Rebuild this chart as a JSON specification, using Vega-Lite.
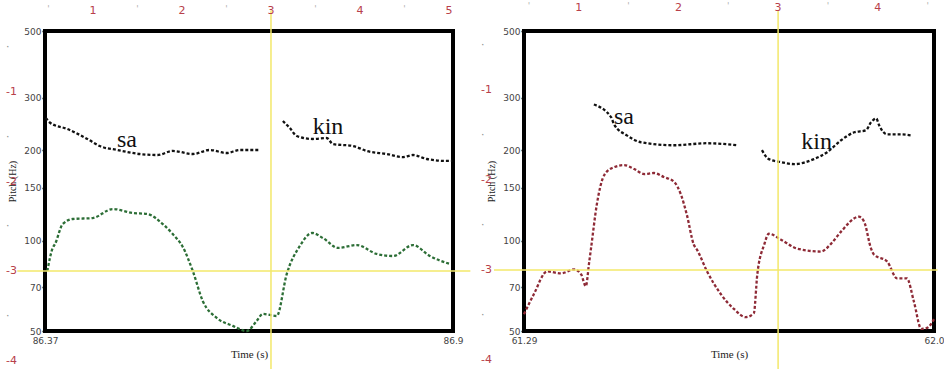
{
  "$schema": "https://vega.github.io/schema/vega-lite/v6.json",
  "background": "white",
  "padding": {"left": 3, "top": 0, "right": 0, "bottom": 0},
  "bounds": "flush",
  "spacing": 71,
  "resolve": {"scale": {"color": "independent"}},
  "config": {
    "view": {"stroke": "#000000", "strokeWidth": 4},
    "axis": {
      "grid": false,
      "domain": false,
      "labelFont": "DejaVu Sans",
      "labelFontSize": 9,
      "labelColor": "#444444",
      "labelFlush": false,
      "tickColor": "#000000",
      "tickSize": 3,
      "tickWidth": 1.5,
      "labelPadding": 1,
      "titleFont": "Liberation Serif",
      "titleFontWeight": "normal",
      "titleFontSize": 11,
      "titleColor": "#222222"
    },
    "line": {"strokeDash": [3, 2], "strokeWidth": 2.3, "interpolate": "monotone"}
  },
  "hconcat": [
    {
      "width": 408,
      "height": 300,
      "resolve": {"scale": {"x": "independent", "y": "independent"}},
      "layer": [
        {
          "layer": [
            {
              "data": {"values": [
                {"contour": "upper", "syllable": "sa", "t": 86.371, "f": 256.4},
                {"contour": "upper", "syllable": "sa", "t": 86.377, "f": 246.8},
                {"contour": "upper", "syllable": "sa", "t": 86.399, "f": 235.7},
                {"contour": "upper", "syllable": "sa", "t": 86.425, "f": 218.3},
                {"contour": "upper", "syllable": "sa", "t": 86.441, "f": 206.8},
                {"contour": "upper", "syllable": "sa", "t": 86.464, "f": 200.6},
                {"contour": "upper", "syllable": "sa", "t": 86.493, "f": 194.5},
                {"contour": "upper", "syllable": "sa", "t": 86.516, "f": 193.0},
                {"contour": "upper", "syllable": "sa", "t": 86.536, "f": 199.1},
                {"contour": "upper", "syllable": "sa", "t": 86.562, "f": 194.5},
                {"contour": "upper", "syllable": "sa", "t": 86.584, "f": 200.6},
                {"contour": "upper", "syllable": "sa", "t": 86.606, "f": 196.0},
                {"contour": "upper", "syllable": "sa", "t": 86.623, "f": 200.6},
                {"contour": "upper", "syllable": "sa", "t": 86.649, "f": 200.6},
                {"contour": "upper", "syllable": "kin", "t": 86.679, "f": 250.6},
                {"contour": "upper", "syllable": "kin", "t": 86.688, "f": 237.5},
                {"contour": "upper", "syllable": "kin", "t": 86.697, "f": 223.4},
                {"contour": "upper", "syllable": "kin", "t": 86.718, "f": 218.3},
                {"contour": "upper", "syllable": "kin", "t": 86.736, "f": 219.9},
                {"contour": "upper", "syllable": "kin", "t": 86.744, "f": 210.0},
                {"contour": "upper", "syllable": "kin", "t": 86.770, "f": 206.8},
                {"contour": "upper", "syllable": "kin", "t": 86.788, "f": 199.1},
                {"contour": "upper", "syllable": "kin", "t": 86.814, "f": 194.5},
                {"contour": "upper", "syllable": "kin", "t": 86.835, "f": 190.0},
                {"contour": "upper", "syllable": "kin", "t": 86.848, "f": 193.0},
                {"contour": "upper", "syllable": "kin", "t": 86.866, "f": 187.2},
                {"contour": "upper", "syllable": "kin", "t": 86.892, "f": 184.4},
                {"contour": "upper", "syllable": "kin", "t": 86.899, "f": 184.4},
                {"contour": "lower", "syllable": "all", "t": 86.373, "f": 79.2},
                {"contour": "lower", "syllable": "all", "t": 86.380, "f": 94.6},
                {"contour": "lower", "syllable": "all", "t": 86.383, "f": 97.5},
                {"contour": "lower", "syllable": "all", "t": 86.393, "f": 113.6},
                {"contour": "lower", "syllable": "all", "t": 86.406, "f": 118.1},
                {"contour": "lower", "syllable": "all", "t": 86.432, "f": 119.0},
                {"contour": "lower", "syllable": "all", "t": 86.458, "f": 127.5},
                {"contour": "lower", "syllable": "all", "t": 86.484, "f": 123.7},
                {"contour": "lower", "syllable": "all", "t": 86.503, "f": 122.7},
                {"contour": "lower", "syllable": "all", "t": 86.523, "f": 113.6},
                {"contour": "lower", "syllable": "all", "t": 86.536, "f": 105.2},
                {"contour": "lower", "syllable": "all", "t": 86.549, "f": 95.3},
                {"contour": "lower", "syllable": "all", "t": 86.562, "f": 79.2},
                {"contour": "lower", "syllable": "all", "t": 86.575, "f": 62.9},
                {"contour": "lower", "syllable": "all", "t": 86.593, "f": 55.3},
                {"contour": "lower", "syllable": "all", "t": 86.614, "f": 52.0},
                {"contour": "lower", "syllable": "all", "t": 86.632, "f": 50.0},
                {"contour": "lower", "syllable": "all", "t": 86.645, "f": 54.0},
                {"contour": "lower", "syllable": "all", "t": 86.653, "f": 57.0},
                {"contour": "lower", "syllable": "all", "t": 86.671, "f": 56.1},
                {"contour": "lower", "syllable": "all", "t": 86.684, "f": 77.4},
                {"contour": "lower", "syllable": "all", "t": 86.701, "f": 96.0},
                {"contour": "lower", "syllable": "all", "t": 86.717, "f": 106.1},
                {"contour": "lower", "syllable": "all", "t": 86.731, "f": 102.1},
                {"contour": "lower", "syllable": "all", "t": 86.751, "f": 94.6},
                {"contour": "lower", "syllable": "all", "t": 86.775, "f": 96.7},
                {"contour": "lower", "syllable": "all", "t": 86.801, "f": 90.3},
                {"contour": "lower", "syllable": "all", "t": 86.822, "f": 88.9},
                {"contour": "lower", "syllable": "all", "t": 86.848, "f": 96.7},
                {"contour": "lower", "syllable": "all", "t": 86.870, "f": 88.9},
                {"contour": "lower", "syllable": "all", "t": 86.896, "f": 83.6}
              ]},
              "mark": {"type": "line"},
              "encoding": {
                "x": {"field": "t", "type": "quantitative", "scale": {"domain": [86.37, 86.9], "nice": false, "zero": false},
                      "axis": {"values": [86.37, 86.9], "format": ".2~f", "tickSize": 0, "labelPadding": 5, "title": "Time (s)", "titlePadding": 3}},
                "y": {"field": "f", "type": "quantitative", "scale": {"type": "log", "domain": [50, 500], "nice": false},
                      "axis": {"values": [50, 70, 100, 150, 200, 300, 500], "title": "Pitch (Hz)", "titlePadding": 6, "titleFontSize": 10}},
                "color": {"field": "contour", "type": "nominal", "scale": {"domain": ["upper", "lower"], "range": ["#111111", "#2c6e36"]}, "legend": null},
                "detail": {"field": "syllable"}
              }
            },
            {
              "data": {"values": [
                {"word": "sa", "t": 86.4765, "f": 205},
                {"word": "kin", "t": 86.7376, "f": 227}
              ]},
              "mark": {"type": "text", "font": "Liberation Serif", "fontSize": 24, "baseline": "alphabetic", "color": "#111111"},
              "encoding": {
                "x": {"field": "t", "type": "quantitative"},
                "y": {"field": "f", "type": "quantitative"},
                "text": {"field": "word"}
              }
            }
          ]
        },
        {
          "data": {"values": [
            {"kind": "cross", "rx": 3, "ry": -3, "label": ""},
            {"kind": "top", "rx": 1, "ry": 0, "label": "1"},
            {"kind": "top", "rx": 2, "ry": 0, "label": "2"},
            {"kind": "top", "rx": 3, "ry": 0, "label": "3"},
            {"kind": "top", "rx": 4, "ry": 0, "label": "4"},
            {"kind": "top", "rx": 5, "ry": 0, "label": "5"},
            {"kind": "left", "rx": 0, "ry": -1, "label": "-1"},
            {"kind": "left", "rx": 0, "ry": -2, "label": "-2"},
            {"kind": "left", "rx": 0, "ry": -3, "label": "-3"},
            {"kind": "left", "rx": 0, "ry": -4, "label": "-4"},
            {"kind": "minortop", "rx": 0.5, "ry": 0, "label": "'"},
            {"kind": "minortop", "rx": 1.5, "ry": 0, "label": "'"},
            {"kind": "minortop", "rx": 2.5, "ry": 0, "label": "'"},
            {"kind": "minortop", "rx": 3.5, "ry": 0, "label": "'"},
            {"kind": "minortop", "rx": 4.5, "ry": 0, "label": "'"},
            {"kind": "minorleft", "rx": 0, "ry": -0.5, "label": "·"},
            {"kind": "minorleft", "rx": 0, "ry": -1.5, "label": "·"},
            {"kind": "minorleft", "rx": 0, "ry": -2.5, "label": "·"},
            {"kind": "minorleft", "rx": 0, "ry": -3.5, "label": "·"}
          ]},
          "layer": [
            {
              "transform": [{"filter": "datum.kind == 'cross'"}],
              "mark": {"type": "rule", "color": "#f3e86a", "strokeWidth": 1.5},
              "encoding": {
                "x": {"field": "rx", "type": "quantitative", "scale": {"domain": [0.461, 5.045], "nice": false, "zero": false}, "axis": null},
                "y": {"datum": -0.09, "type": "quantitative", "scale": {"domain": [-3.67, -0.318], "nice": false, "zero": false}, "axis": null},
                "y2": {"datum": -4.25}
              }
            },
            {
              "transform": [{"filter": "datum.kind == 'cross'"}],
              "mark": {"type": "rule", "color": "#f3e86a", "strokeWidth": 1.5},
              "encoding": {
                "y": {"field": "ry", "type": "quantitative"},
                "x": {"datum": 0.15, "type": "quantitative"},
                "x2": {"datum": 5.24}
              }
            },
            {
              "transform": [{"filter": "datum.kind == 'top'"}],
              "mark": {"type": "text", "color": "#b8404a", "font": "DejaVu Sans", "fontSize": 11, "baseline": "top", "dy": 2},
              "encoding": {
                "x": {"field": "rx", "type": "quantitative"},
                "y": {"field": "ry", "type": "quantitative"},
                "text": {"field": "label"}
              }
            },
            {
              "transform": [{"filter": "datum.kind == 'left'"}],
              "mark": {"type": "text", "color": "#b8404a", "font": "DejaVu Sans", "fontSize": 11, "baseline": "middle", "align": "left", "dx": 2},
              "encoding": {
                "x": {"field": "rx", "type": "quantitative"},
                "y": {"field": "ry", "type": "quantitative"},
                "text": {"field": "label"}
              }
            },
            {
              "transform": [{"filter": "datum.kind == 'minortop'"}],
              "mark": {"type": "text", "color": "#b0b0b0", "font": "DejaVu Sans", "fontSize": 9, "baseline": "top", "dy": 2},
              "encoding": {
                "x": {"field": "rx", "type": "quantitative"},
                "y": {"field": "ry", "type": "quantitative"},
                "text": {"field": "label"}
              }
            },
            {
              "transform": [{"filter": "datum.kind == 'minorleft'"}],
              "mark": {"type": "text", "color": "#909090", "font": "DejaVu Sans", "fontSize": 11, "baseline": "middle", "align": "left", "dx": 2},
              "encoding": {
                "x": {"field": "rx", "type": "quantitative"},
                "y": {"field": "ry", "type": "quantitative"},
                "text": {"field": "label"}
              }
            }
          ]
        }
      ]
    },
    {
      "width": 410,
      "height": 300,
      "resolve": {"scale": {"x": "independent", "y": "independent"}},
      "layer": [
        {
          "layer": [
            {
              "data": {"values": [
                {"contour": "upper", "syllable": "sa", "t": 61.411, "f": 284.4},
                {"contour": "upper", "syllable": "sa", "t": 61.441, "f": 257.6},
                {"contour": "upper", "syllable": "sa", "t": 61.446, "f": 244.2},
                {"contour": "upper", "syllable": "sa", "t": 61.468, "f": 224.5},
                {"contour": "upper", "syllable": "sa", "t": 61.493, "f": 212.8},
                {"contour": "upper", "syllable": "sa", "t": 61.550, "f": 208.0},
                {"contour": "upper", "syllable": "sa", "t": 61.607, "f": 211.3},
                {"contour": "upper", "syllable": "sa", "t": 61.659, "f": 208.0},
                {"contour": "upper", "syllable": "kin", "t": 61.702, "f": 200.3},
                {"contour": "upper", "syllable": "kin", "t": 61.714, "f": 187.0},
                {"contour": "upper", "syllable": "kin", "t": 61.735, "f": 182.8},
                {"contour": "upper", "syllable": "kin", "t": 61.758, "f": 180.0},
                {"contour": "upper", "syllable": "kin", "t": 61.792, "f": 187.0},
                {"contour": "upper", "syllable": "kin", "t": 61.815, "f": 197.2},
                {"contour": "upper", "syllable": "kin", "t": 61.839, "f": 216.1},
                {"contour": "upper", "syllable": "kin", "t": 61.862, "f": 229.8},
                {"contour": "upper", "syllable": "kin", "t": 61.882, "f": 233.3},
                {"contour": "upper", "syllable": "kin", "t": 61.891, "f": 248.0},
                {"contour": "upper", "syllable": "kin", "t": 61.900, "f": 255.6},
                {"contour": "upper", "syllable": "kin", "t": 61.905, "f": 242.4},
                {"contour": "upper", "syllable": "kin", "t": 61.919, "f": 226.2},
                {"contour": "upper", "syllable": "kin", "t": 61.943, "f": 226.2},
                {"contour": "upper", "syllable": "kin", "t": 61.960, "f": 224.5},
                {"contour": "lower", "syllable": "all", "t": 61.290, "f": 56.9},
                {"contour": "lower", "syllable": "all", "t": 61.307, "f": 66.3},
                {"contour": "lower", "syllable": "all", "t": 61.330, "f": 79.0},
                {"contour": "lower", "syllable": "all", "t": 61.354, "f": 77.8},
                {"contour": "lower", "syllable": "all", "t": 61.377, "f": 80.2},
                {"contour": "lower", "syllable": "all", "t": 61.389, "f": 77.2},
                {"contour": "lower", "syllable": "all", "t": 61.397, "f": 70.5},
                {"contour": "lower", "syllable": "all", "t": 61.403, "f": 85.2},
                {"contour": "lower", "syllable": "all", "t": 61.406, "f": 94.1},
                {"contour": "lower", "syllable": "all", "t": 61.416, "f": 131.7},
                {"contour": "lower", "syllable": "all", "t": 61.429, "f": 165.5},
                {"contour": "lower", "syllable": "all", "t": 61.446, "f": 175.9},
                {"contour": "lower", "syllable": "all", "t": 61.463, "f": 178.6},
                {"contour": "lower", "syllable": "all", "t": 61.481, "f": 173.3},
                {"contour": "lower", "syllable": "all", "t": 61.498, "f": 166.8},
                {"contour": "lower", "syllable": "all", "t": 61.515, "f": 168.1},
                {"contour": "lower", "syllable": "all", "t": 61.532, "f": 163.1},
                {"contour": "lower", "syllable": "all", "t": 61.550, "f": 157.0},
                {"contour": "lower", "syllable": "all", "t": 61.562, "f": 142.1},
                {"contour": "lower", "syllable": "all", "t": 61.572, "f": 122.0},
                {"contour": "lower", "syllable": "all", "t": 61.584, "f": 97.1},
                {"contour": "lower", "syllable": "all", "t": 61.590, "f": 93.0},
                {"contour": "lower", "syllable": "all", "t": 61.607, "f": 79.0},
                {"contour": "lower", "syllable": "all", "t": 61.631, "f": 66.3},
                {"contour": "lower", "syllable": "all", "t": 61.654, "f": 59.1},
                {"contour": "lower", "syllable": "all", "t": 61.674, "f": 55.6},
                {"contour": "lower", "syllable": "all", "t": 61.688, "f": 57.3},
                {"contour": "lower", "syllable": "all", "t": 61.694, "f": 77.2},
                {"contour": "lower", "syllable": "all", "t": 61.706, "f": 97.1},
                {"contour": "lower", "syllable": "all", "t": 61.714, "f": 105.5},
                {"contour": "lower", "syllable": "all", "t": 61.735, "f": 100.8},
                {"contour": "lower", "syllable": "all", "t": 61.763, "f": 94.1},
                {"contour": "lower", "syllable": "all", "t": 61.804, "f": 92.0},
                {"contour": "lower", "syllable": "all", "t": 61.822, "f": 97.8},
                {"contour": "lower", "syllable": "all", "t": 61.839, "f": 107.2},
                {"contour": "lower", "syllable": "all", "t": 61.870, "f": 120.2},
                {"contour": "lower", "syllable": "all", "t": 61.879, "f": 115.7},
                {"contour": "lower", "syllable": "all", "t": 61.891, "f": 94.1},
                {"contour": "lower", "syllable": "all", "t": 61.896, "f": 89.9},
                {"contour": "lower", "syllable": "all", "t": 61.919, "f": 85.2},
                {"contour": "lower", "syllable": "all", "t": 61.936, "f": 74.9},
                {"contour": "lower", "syllable": "all", "t": 61.953, "f": 74.9},
                {"contour": "lower", "syllable": "all", "t": 61.965, "f": 62.9},
                {"contour": "lower", "syllable": "all", "t": 61.978, "f": 50.8},
                {"contour": "lower", "syllable": "all", "t": 61.988, "f": 51.2},
                {"contour": "lower", "syllable": "all", "t": 62.000, "f": 54.8}
              ]},
              "mark": {"type": "line"},
              "encoding": {
                "x": {"field": "t", "type": "quantitative", "scale": {"domain": [61.29, 62.0], "nice": false, "zero": false},
                      "axis": {"values": [61.29, 62.0], "labelExpr": "datum.value >= 62 ? '62.0' : format(datum.value, '.2f')", "tickSize": 0, "labelPadding": 5, "title": "Time (s)", "titlePadding": 3}},
                "y": {"field": "f", "type": "quantitative", "scale": {"type": "log", "domain": [50, 500], "nice": false},
                      "axis": {"values": [50, 70, 100, 150, 200, 300, 500], "title": "Pitch (Hz)", "titlePadding": 6, "titleFontSize": 10}},
                "color": {"field": "contour", "type": "nominal", "scale": {"domain": ["upper", "lower"], "range": ["#111111", "#8e2a36"]}, "legend": null},
                "detail": {"field": "syllable"}
              }
            },
            {
              "data": {"values": [
                {"word": "sa", "t": 61.4632, "f": 244},
                {"word": "kin", "t": 61.7966, "f": 202}
              ]},
              "mark": {"type": "text", "font": "Liberation Serif", "fontSize": 24, "baseline": "alphabetic", "color": "#111111"},
              "encoding": {
                "x": {"field": "t", "type": "quantitative"},
                "y": {"field": "f", "type": "quantitative"},
                "text": {"field": "word"}
              }
            }
          ]
        },
        {
          "data": {"values": [
            {"kind": "cross", "rx": 3, "ry": -3, "label": ""},
            {"kind": "top", "rx": 1, "ry": 0, "label": "1"},
            {"kind": "top", "rx": 2, "ry": 0, "label": "2"},
            {"kind": "top", "rx": 3, "ry": 0, "label": "3"},
            {"kind": "top", "rx": 4, "ry": 0, "label": "4"},
            {"kind": "left", "rx": 0, "ry": -1, "label": "-1"},
            {"kind": "left", "rx": 0, "ry": -2, "label": "-2"},
            {"kind": "left", "rx": 0, "ry": -3, "label": "-3"},
            {"kind": "left", "rx": 0, "ry": -4, "label": "-4"},
            {"kind": "minortop", "rx": 0.5, "ry": 0, "label": "'"},
            {"kind": "minortop", "rx": 1.5, "ry": 0, "label": "'"},
            {"kind": "minortop", "rx": 2.5, "ry": 0, "label": "'"},
            {"kind": "minortop", "rx": 3.5, "ry": 0, "label": "'"},
            {"kind": "minortop", "rx": 4.5, "ry": 0, "label": "'"},
            {"kind": "minorleft", "rx": 0, "ry": -0.5, "label": "·"},
            {"kind": "minorleft", "rx": 0, "ry": -1.5, "label": "·"},
            {"kind": "minorleft", "rx": 0, "ry": -2.5, "label": "·"},
            {"kind": "minorleft", "rx": 0, "ry": -3.5, "label": "·"}
          ]},
          "layer": [
            {
              "transform": [{"filter": "datum.kind == 'cross'"}],
              "mark": {"type": "rule", "color": "#f3e86a", "strokeWidth": 1.5},
              "encoding": {
                "x": {"field": "rx", "type": "quantitative", "scale": {"domain": [0.451, 4.564], "nice": false, "zero": false}, "axis": null},
                "y": {"datum": -0.12, "type": "quantitative", "scale": {"domain": [-3.678, -0.344], "nice": false, "zero": false}, "axis": null},
                "y2": {"datum": -4.25}
              }
            },
            {
              "transform": [{"filter": "datum.kind == 'cross'"}],
              "mark": {"type": "rule", "color": "#f3e86a", "strokeWidth": 1.5},
              "encoding": {
                "y": {"field": "ry", "type": "quantitative"},
                "x": {"datum": 0.15, "type": "quantitative"},
                "x2": {"datum": 4.6}
              }
            },
            {
              "transform": [{"filter": "datum.kind == 'top'"}],
              "mark": {"type": "text", "color": "#b8404a", "font": "DejaVu Sans", "fontSize": 11, "baseline": "top", "dy": 2},
              "encoding": {
                "x": {"field": "rx", "type": "quantitative"},
                "y": {"field": "ry", "type": "quantitative"},
                "text": {"field": "label"}
              }
            },
            {
              "transform": [{"filter": "datum.kind == 'left'"}],
              "mark": {"type": "text", "color": "#b8404a", "font": "DejaVu Sans", "fontSize": 11, "baseline": "middle", "align": "left", "dx": 2},
              "encoding": {
                "x": {"field": "rx", "type": "quantitative"},
                "y": {"field": "ry", "type": "quantitative"},
                "text": {"field": "label"}
              }
            },
            {
              "transform": [{"filter": "datum.kind == 'minortop'"}],
              "mark": {"type": "text", "color": "#b0b0b0", "font": "DejaVu Sans", "fontSize": 9, "baseline": "top", "dy": 2},
              "encoding": {
                "x": {"field": "rx", "type": "quantitative"},
                "y": {"field": "ry", "type": "quantitative"},
                "text": {"field": "label"}
              }
            },
            {
              "transform": [{"filter": "datum.kind == 'minorleft'"}],
              "mark": {"type": "text", "color": "#909090", "font": "DejaVu Sans", "fontSize": 11, "baseline": "middle", "align": "left", "dx": 2},
              "encoding": {
                "x": {"field": "rx", "type": "quantitative"},
                "y": {"field": "ry", "type": "quantitative"},
                "text": {"field": "label"}
              }
            }
          ]
        }
      ]
    }
  ]
}
